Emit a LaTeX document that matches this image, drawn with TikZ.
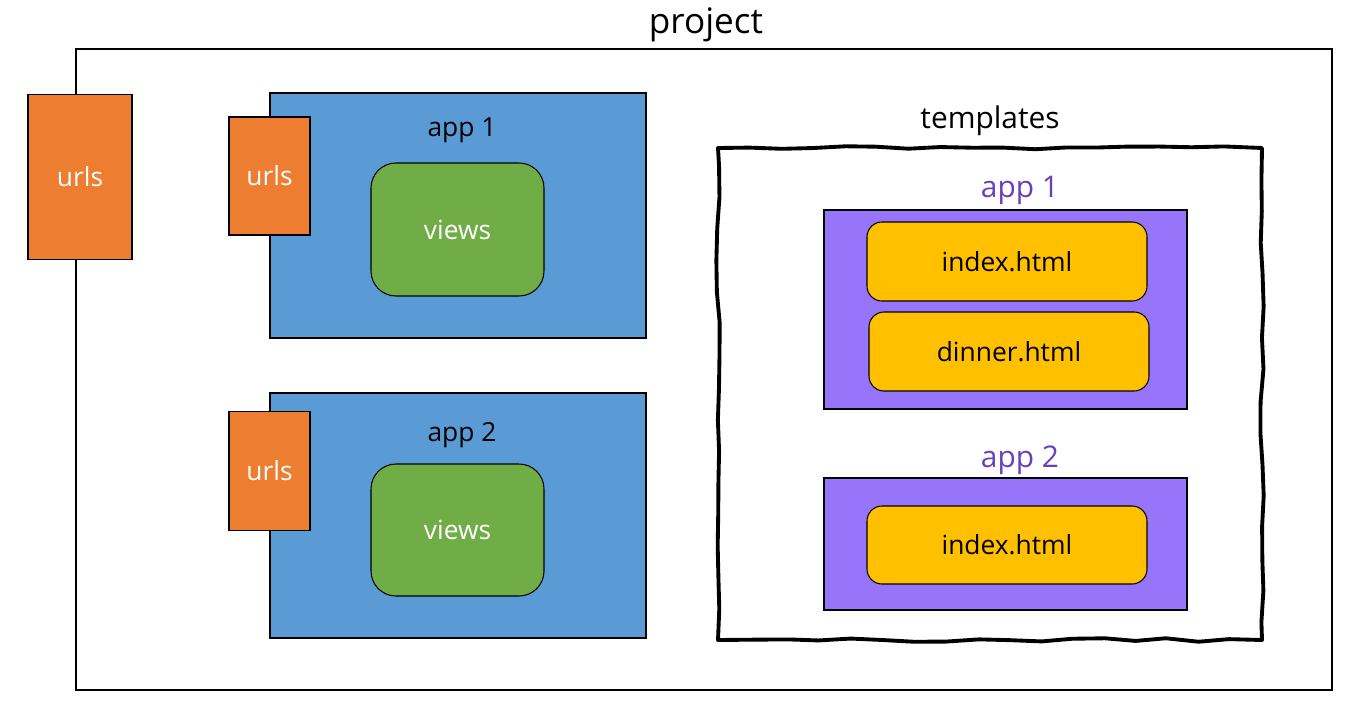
\documentclass[tikz,border=0pt]{standalone}
\usepackage{fontspec}
\setmainfont{Open Sans}
\usetikzlibrary{decorations.pathmorphing}

\definecolor{urlorange}{HTML}{ED7D31}
\definecolor{appblue}{HTML}{5B9BD5}
\definecolor{viewgreen}{HTML}{70AD47}
\definecolor{tplpurple}{HTML}{9775FA}
\definecolor{tpltext}{HTML}{6A3FBE}
\definecolor{fileyellow}{HTML}{FFC000}

\newcommand{\px}{0.02cm}

\tikzset{
  box/.style={draw, line width=1pt, inner sep=0pt, outer sep=0pt, font=\fontsize{15}{18}\selectfont},
  urlsbox/.style={box, fill=urlorange, text=white},
  appbox/.style={box, fill=appblue},
  viewsbox/.style={box, line width=0.6pt, fill=viewgreen, text=white, rounded corners=0.5cm},
  tplbox/.style={box, fill=tplpurple},
  filebox/.style={box, line width=0.6pt, fill=fileyellow, rounded corners=0.3cm},
  lbl/.style={inner sep=0pt, font=\fontsize{15}{18}\selectfont},
  tpllbl/.style={inner sep=0pt, text=tpltext, font=\fontsize{17}{20}\selectfont},
  wavy/.style={line width=2.2pt, line join=round, line cap=round, decorate,
    decoration={random steps, segment length=18pt, amplitude=1pt}}
}

\begin{document}
\begin{tikzpicture}[x=\px, y=-\px]
\pgfmathsetseed{7}
\useasboundingbox (0,0) rectangle (1352,700);

% project frame
\node[box, minimum width=1256*\px, minimum height=641*\px] (project) at (704,369.5) {};
\node[inner sep=0pt, font=\fontsize{20}{24}\selectfont] (projectlbl) at (706,25) {project};
\node[urlsbox, minimum width=104*\px, minimum height=165*\px] (urls) at (80,177) {urls};

% apps
\node[appbox, minimum width=376*\px, minimum height=245*\px] (app1) at (458,215.5) {};
\node[lbl] (app1lbl) at (462,130) {app 1};
\node[urlsbox, minimum width=81*\px, minimum height=118*\px] (urls1) at (269.5,176) {urls};
\node[viewsbox, minimum width=173*\px, minimum height=133*\px] (views1) at (457.5,229.5) {views};

\node[appbox, minimum width=376*\px, minimum height=245*\px] (app2) at (458,515.5) {};
\node[lbl] (app2lbl) at (462,435) {app 2};
\node[urlsbox, minimum width=81*\px, minimum height=119*\px] (urls2) at (269.5,471) {urls};
\node[viewsbox, minimum width=173*\px, minimum height=132*\px] (views2) at (457.5,530) {views};

% templates
\node[inner sep=0pt, font=\fontsize{17}{20}\selectfont] (tpllbl) at (990,121) {templates};
\draw[wavy] (718,148) -- (1262,148) -- (1262,640) -- (718,640) -- cycle;

\node[tpllbl] (tapp1lbl) at (1020,190) {app 1};
\node[tplbox, minimum width=363*\px, minimum height=199*\px] (tapp1) at (1005.5,309.5) {};
\node[filebox, minimum width=280*\px, minimum height=79*\px] (index1) at (1007,261.5) {index.html};
\node[filebox, minimum width=280*\px, minimum height=79*\px] (dinner) at (1009,351.5) {dinner.html};

\node[tpllbl] (tapp2lbl) at (1020,460) {app 2};
\node[tplbox, minimum width=363*\px, minimum height=132*\px] (tapp2) at (1005.5,544) {};
\node[filebox, minimum width=280*\px, minimum height=78*\px] (index2) at (1007,545) {index.html};
\end{tikzpicture}
\end{document}
